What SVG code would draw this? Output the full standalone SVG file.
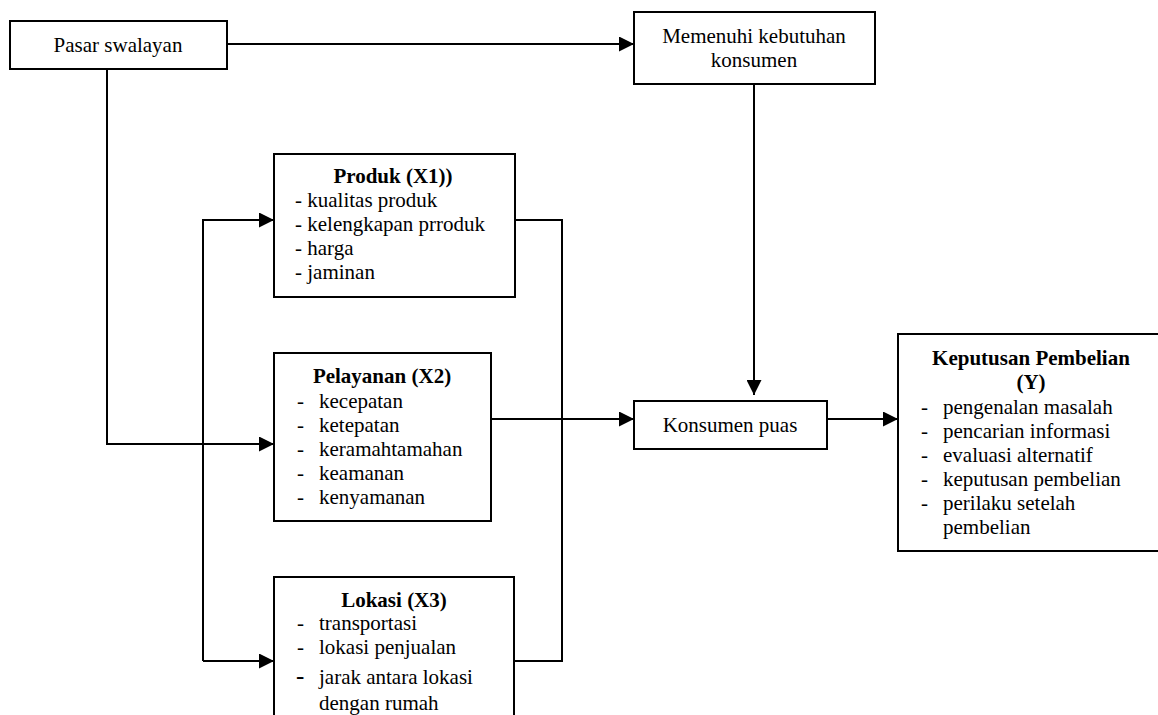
<svg xmlns="http://www.w3.org/2000/svg" width="1158" height="715" viewBox="0 0 1158 715">
<style>
  .box { fill: #ffffff; stroke: #000000; stroke-width: 2; }
  .t { font-family: 'Liberation Serif', Tinos, 'Times New Roman', Times, 'DejaVu Serif', serif; font-size: 21px; fill: #000000; }
  .c { text-anchor: middle; }
  .b { font-weight: bold; }
  .ln { fill: none; stroke: #000000; stroke-width: 2; }
</style>
<defs>
  <marker id="arr" markerUnits="userSpaceOnUse" markerWidth="15" markerHeight="15" refX="15" refY="7.5" orient="auto">
    <path d="M0,0 L15,7.5 L0,15 Z" fill="#000000"/>
  </marker>
</defs>
<rect width="1158" height="715" fill="#ffffff"/>

<g id="connectors">
  <path class="ln" d="M227,44 H634" marker-end="url(#arr)"/>
  <path class="ln" d="M107,69 V444 H274" marker-end="url(#arr)"/>
  <path class="ln" d="M203,661 V220 H274" marker-end="url(#arr)"/>
  <path class="ln" d="M203,661 H274" marker-end="url(#arr)"/>
  <path class="ln" d="M515,220 H562 V661 H514"/>
  <path class="ln" d="M491,419 H634" marker-end="url(#arr)"/>
  <path class="ln" d="M754,84 V395" marker-end="url(#arr)"/>
  <path class="ln" d="M827,419 H898" marker-end="url(#arr)"/>
</g>

<g id="pasar">
  <rect class="box" x="10" y="21" width="217" height="48"/>
  <text class="t c" x="118" y="52" font-family="Liberation Serif, serif">Pasar swalayan</text>
</g>

<g id="memenuhi">
  <rect class="box" x="634" y="12" width="241" height="72"/>
  <text class="t c" x="754" y="43">Memenuhi kebutuhan</text>
  <text class="t c" x="754" y="67">konsumen</text>
</g>

<g id="produk">
  <rect class="box" x="274" y="154" width="241" height="143"/>
  <text class="t c b" x="393" y="183">Produk (X1))</text>
  <text class="t" x="295" y="207">- kualitas produk</text>
  <text class="t" x="295" y="231">- kelengkapan prroduk</text>
  <text class="t" x="295" y="255">- harga</text>
  <text class="t" x="295" y="279">- jaminan</text>
</g>

<g id="pelayanan">
  <rect class="box" x="274" y="353" width="217" height="168"/>
  <text class="t c b" x="382" y="383">Pelayanan (X2)</text>
  <text class="t" x="297" y="408">-</text><text class="t" x="319" y="408">kecepatan</text>
  <text class="t" x="297" y="432">-</text><text class="t" x="319" y="432">ketepatan</text>
  <text class="t" x="297" y="456">-</text><text class="t" x="319" y="456">keramahtamahan</text>
  <text class="t" x="297" y="480">-</text><text class="t" x="319" y="480">keamanan</text>
  <text class="t" x="297" y="504">-</text><text class="t" x="319" y="504">kenyamanan</text>
</g>

<g id="lokasi">
  <rect class="box" x="274" y="577" width="240" height="160"/>
  <text class="t c b" x="394" y="607">Lokasi (X3)</text>
  <text class="t" x="297" y="630">-</text><text class="t" x="319" y="630">transportasi</text>
  <text class="t" x="297" y="654">-</text><text class="t" x="319" y="654">lokasi penjualan</text>
  <text class="t" x="296" y="684" style="font-size:25px">-</text><text class="t" x="319" y="684">jarak antara lokasi</text>
  <text class="t" x="319" y="710">dengan rumah</text>
</g>

<g id="konsumen">
  <rect class="box" x="634" y="401" width="193" height="48"/>
  <text class="t c" x="730" y="432">Konsumen puas</text>
</g>

<g id="keputusan">
  <rect class="box" x="898" y="334" width="266" height="217"/>
  <text class="t c b" x="1031" y="365">Keputusan Pembelian</text>
  <text class="t c b" x="1031" y="389">(Y)</text>
  <text class="t" x="921" y="414">-</text><text class="t" x="943" y="414">pengenalan masalah</text>
  <text class="t" x="921" y="438">-</text><text class="t" x="943" y="438">pencarian informasi</text>
  <text class="t" x="921" y="462">-</text><text class="t" x="943" y="462">evaluasi alternatif</text>
  <text class="t" x="921" y="486">-</text><text class="t" x="943" y="486">keputusan pembelian</text>
  <text class="t" x="921" y="510">-</text><text class="t" x="943" y="510">perilaku setelah</text>
  <text class="t" x="943" y="534">pembelian</text>
</g>
</svg>
